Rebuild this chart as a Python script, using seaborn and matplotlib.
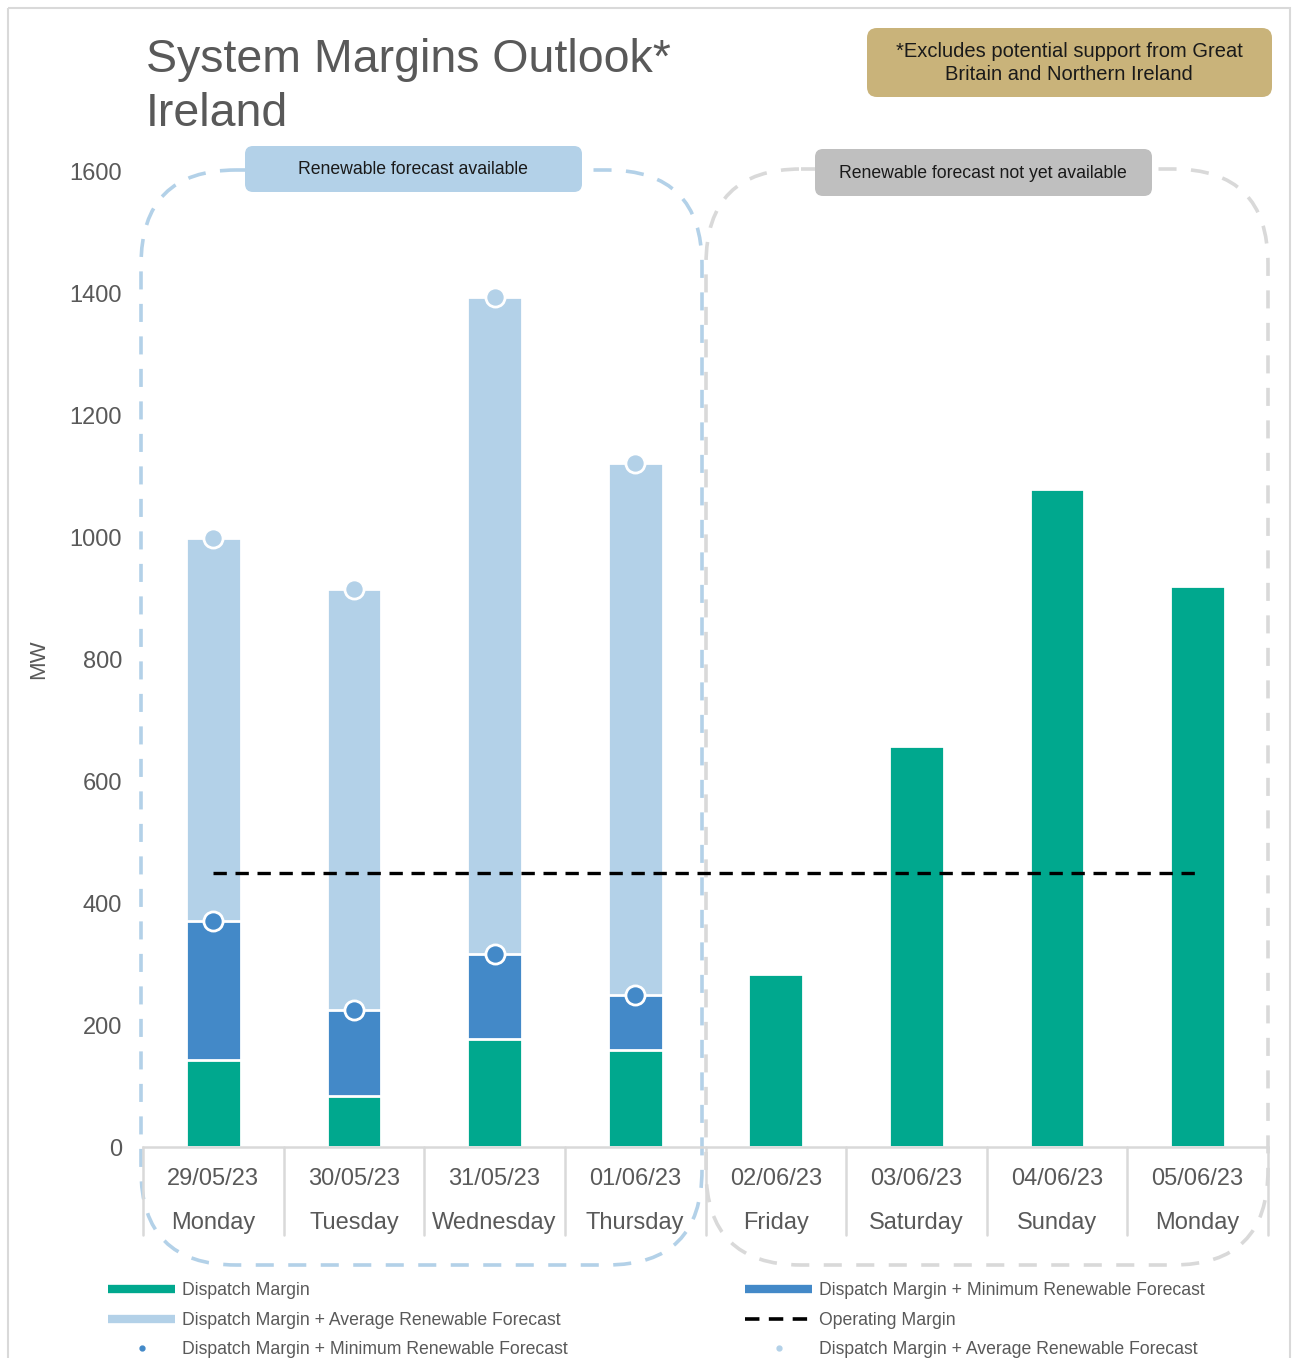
import numpy as np
import pandas as pd
import matplotlib
matplotlib.use("Agg")
import matplotlib.pyplot as plt
import seaborn as sns
from matplotlib.patches import FancyBboxPatch, Rectangle
from matplotlib.lines import Line2D

# data (MW)
dates = ["29/05/23", "30/05/23", "31/05/23", "01/06/23",
         "02/06/23", "03/06/23", "04/06/23", "05/06/23"]
weekdays = ["Monday", "Tuesday", "Wednesday", "Thursday",
            "Friday", "Saturday", "Sunday", "Monday"]
dispatch_margin = [143, 84, 177, 159, 284, 657, 1079, 920]
# renewable forecast only available for the first four days
dm_min_renewable = [370, 225, 316, 249]
dm_avg_renewable = [998, 915, 1393, 1121]
operating_margin = [450, 450, 450, 450, 450, 450, 450, 450]

GREEN = "#00A88E"
BLUE = "#4389C8"
LIGHT = "#B3D1E8"
GREY_TXT = "#595959"
GOLD = "#C9B37A"

labels = [d + "\n" + w for d, w in zip(dates, weekdays)]
df_all = pd.DataFrame({"day": labels, "dm": dispatch_margin})
df_ren = pd.DataFrame({"day": labels[:4], "dm_min": dm_min_renewable,
                       "dm_avg": dm_avg_renewable})

sns.set_theme(style="white")
plt.rcParams["font.family"] = ["Liberation Sans", "DejaVu Sans"]

W, H = 1292, 1358
fig = plt.figure(figsize=(W / 100, H / 100), dpi=100)

# overlay in pixel coordinates for the decorations
ov = fig.add_axes([0, 0, 1, 1], zorder=0)
ov.set_xlim(0, W)
ov.set_ylim(H, 0)
ov.axis("off")

ax = fig.add_axes([143 / W, 1 - 1147 / H, 1125 / W, 976 / H], zorder=1)
ax.patch.set_alpha(0)

bar_kw = dict(order=labels, width=0.39, saturation=1, errorbar=None,
              edgecolor="white", linewidth=2, ax=ax)
sns.barplot(data=df_ren, x="day", y="dm_avg", color=LIGHT, **bar_kw)
sns.barplot(data=df_ren, x="day", y="dm_min", color=BLUE, **bar_kw)
sns.barplot(data=df_all, x="day", y="dm", color=GREEN, **bar_kw)

sns.scatterplot(x=np.arange(4), y=dm_avg_renewable, s=190, color=LIGHT,
                edgecolor="white", linewidth=2, zorder=5, ax=ax, legend=False)
sns.scatterplot(x=np.arange(4), y=dm_min_renewable, s=190, color=BLUE,
                edgecolor="white", linewidth=2, zorder=5, ax=ax, legend=False)
sns.lineplot(x=np.arange(8), y=operating_margin, color="black", lw=2.4,
             linestyle=(0, (4, 2.6)), zorder=4, ax=ax)

ax.set_xlim(-0.5, 7.5)
ax.set_ylim(0, 1600)
ax.set_yticks(np.arange(0, 1601, 200))
ax.set_xticks(range(8))
ax.set_xticklabels(labels)
ax.set_xlabel("")
ax.set_ylabel("MW", fontsize=16, color=GREY_TXT)
ax.yaxis.set_label_coords(-0.083, 0.5)
ax.tick_params(axis="y", length=0, pad=15, labelsize=17, labelcolor=GREY_TXT)
ax.tick_params(axis="x", length=0, pad=15, labelsize=17, labelcolor=GREY_TXT)
for t in ax.get_xticklabels():
    t.set_linespacing(2.3)
for s in ["top", "right", "left"]:
    ax.spines[s].set_visible(False)
ax.spines["bottom"].set_color("#D9D9D9")
ax.spines["bottom"].set_linewidth(1.8)

# separators between the category labels
for b in np.arange(-0.5, 8.5, 1):
    ax.plot([b, b], [0, -0.09], transform=ax.get_xaxis_transform(),
            color="#D9D9D9", lw=1.8, clip_on=False)

# dashed rounded regions
ov.add_patch(FancyBboxPatch((141, 170), 561, 1095,
                            boxstyle="round,pad=0,rounding_size=95",
                            fill=False, ec=LIGHT, lw=2.6, ls=(0, (5, 4))))
ov.add_patch(FancyBboxPatch((706, 169), 562, 1096,
                            boxstyle="round,pad=0,rounding_size=95",
                            fill=False, ec="#D9D9D9", lw=2.6, ls=(0, (5, 4))))
ov.add_patch(FancyBboxPatch((245, 146), 337, 46,
                            boxstyle="round,pad=0,rounding_size=8",
                            fc=LIGHT, ec="none"))
ov.text(413, 170, "Renewable forecast available", ha="center", va="center",
        fontsize=12.7, color="#1a1a1a")
ov.add_patch(FancyBboxPatch((815, 149), 337, 47,
                            boxstyle="round,pad=0,rounding_size=8",
                            fc="#BFBFBF", ec="none"))
ov.text(983, 173, "Renewable forecast not yet available", ha="center",
        va="center", fontsize=12.7, color="#1a1a1a")

# note box and title
ov.add_patch(FancyBboxPatch((867, 28), 405, 69,
                            boxstyle="round,pad=0,rounding_size=10",
                            fc=GOLD, ec="none"))
ov.text(1069, 63, "*Excludes potential support from Great\nBritain and Northern Ireland",
        ha="center", va="center", fontsize=14.5, color="#1a1a1a", linespacing=1.3)
ov.text(146, 38, "System Margins Outlook*\nIreland", ha="left", va="top",
        fontsize=33.5, color=GREY_TXT, linespacing=1.3)

ov.add_patch(Rectangle((8, 8), 1282, 1360, fill=False, ec="#D9D9D9", lw=1.5))

# legend, two columns placed separately
h_left = [Line2D([], [], color=GREEN, lw=6, solid_capstyle="butt"),
          Line2D([], [], color=LIGHT, lw=6, solid_capstyle="butt"),
          Line2D([], [], ls="none", marker="o", ms=3.5, color=BLUE)]
l_left = ["Dispatch Margin",
          "Dispatch Margin + Average Renewable Forecast",
          "Dispatch Margin + Minimum Renewable Forecast"]
h_right = [Line2D([], [], color=BLUE, lw=6, solid_capstyle="butt"),
           Line2D([], [], color="black", lw=2.6, ls=(0, (4, 2.6))),
           Line2D([], [], ls="none", marker="o", ms=3.5, color=LIGHT)]
l_right = ["Dispatch Margin + Minimum Renewable Forecast",
           "Operating Margin",
           "Dispatch Margin + Average Renewable Forecast"]
leg_kw = dict(loc="upper left", frameon=False, fontsize=12.7,
              handlelength=3.8, handletextpad=0.4, labelspacing=0.72,
              borderpad=0, borderaxespad=0, labelcolor=GREY_TXT)
fig.legend(h_left, l_left, bbox_to_anchor=(108 / W, 1 - 1282 / H), **leg_kw)
fig.legend(h_right, l_right, bbox_to_anchor=(745 / W, 1 - 1282 / H), **leg_kw)

fig.savefig("out.png", dpi=100)
